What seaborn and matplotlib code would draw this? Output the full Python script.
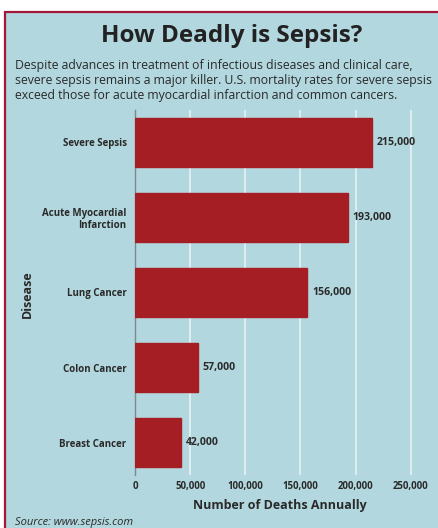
import matplotlib
matplotlib.use("Agg")
import matplotlib.pyplot as plt
import seaborn as sns
import pandas as pd
from matplotlib.patches import Rectangle

diseases = ["Severe Sepsis", "Acute Myocardial\nInfarction", "Lung Cancer", "Colon Cancer", "Breast Cancer"]
deaths = [215000, 193000, 156000, 57000, 42000]
value_labels = ["215,000", "193,000", "156,000", "57,000", "42,000"]
xticks = [0, 50000, 100000, 150000, 200000, 250000]
xtick_labels = ["0", "50,000", "100,000", "150,000", "200,000", "250,000"]

df = pd.DataFrame({"Disease": diseases, "Deaths": deaths})

sns.set_style("white")
plt.rcParams['font.family'] = ['Open Sans', 'DejaVu Sans']

BG = "#b2d7de"
BAR = "#a51e24"
BORDER = "#a3173a"
TXT = "#2a2a2a"

fig = plt.figure(figsize=(4.39, 5.28), dpi=100)
fig.patch.set_facecolor("white")
fig.patches.append(Rectangle((5/439, -0.05), 1.0, (528-12)/528 + 0.05, transform=fig.transFigure,
                             facecolor=BG, edgecolor=BORDER, linewidth=1.6, zorder=-5))

ax = fig.add_axes([135/439, (528-475)/528, 290/439, 365/528])
ax.set_zorder(2)
ax.set_facecolor(BG)
sns.barplot(data=df, x="Deaths", y="Disease", color=BAR, width=0.65, ax=ax,
            edgecolor=BAR, saturation=1, zorder=3)
ax.set_ylim(4.43, -0.43)
ax.set_xlim(0, 263000)
ax.set_xticks(xticks)
ax.set_xticklabels(xtick_labels, fontsize=6.9, fontweight="bold", color=TXT)
ax.tick_params(axis="y", labelsize=7.0, length=0, pad=6)
for lab in ax.get_yticklabels():
    lab.set_fontweight("bold")
    lab.set_color(TXT)
    lab.set_horizontalalignment("right")
ax.tick_params(axis="x", length=0, pad=4)
ax.grid(axis="x", color="#e6f1f3", linewidth=1.2, zorder=0)
ax.set_axisbelow(True)
for s in ["top", "right", "bottom"]:
    ax.spines[s].set_visible(False)
ax.spines["left"].set_color("#7a8a8e")
ax.spines["left"].set_linewidth(1.0)

for i, (v, t) in enumerate(zip(deaths, value_labels)):
    ax.text(v + 4500, i, t, va="center", ha="left", fontsize=7.6, fontweight="bold", color=TXT)

ax.set_xlabel("Number of Deaths Annually", fontsize=9.0, fontweight="bold", color=TXT, labelpad=5)
ax.set_ylabel("")
fig.text(27/439, 1 - 294/528, "Disease", rotation=90, fontsize=9.0, fontweight="bold",
         color=TXT, ha="center", va="center")

fig.text(232/439, 1 - 36/528, "How Deadly is Sepsis?", fontsize=17.5, fontweight="bold",
         color="#222222", ha="center", va="center")
sub = ("Despite advances in treatment of infectious diseases and clinical care,\n"
       "severe sepsis remains a major killer. U.S. mortality rates for severe sepsis\n"
       "exceed those for acute myocardial infarction and common cancers.")
fig.text(15/439, 1 - 59/528, sub, fontsize=8.8, color=TXT, ha="left", va="top", linespacing=1.18)
fig.text(15/439, 1 - 522/528, "Source: www.sepsis.com", fontsize=8.0, style="italic",
         color=TXT, ha="left", va="center")

fig.savefig("out.png", dpi=100)
